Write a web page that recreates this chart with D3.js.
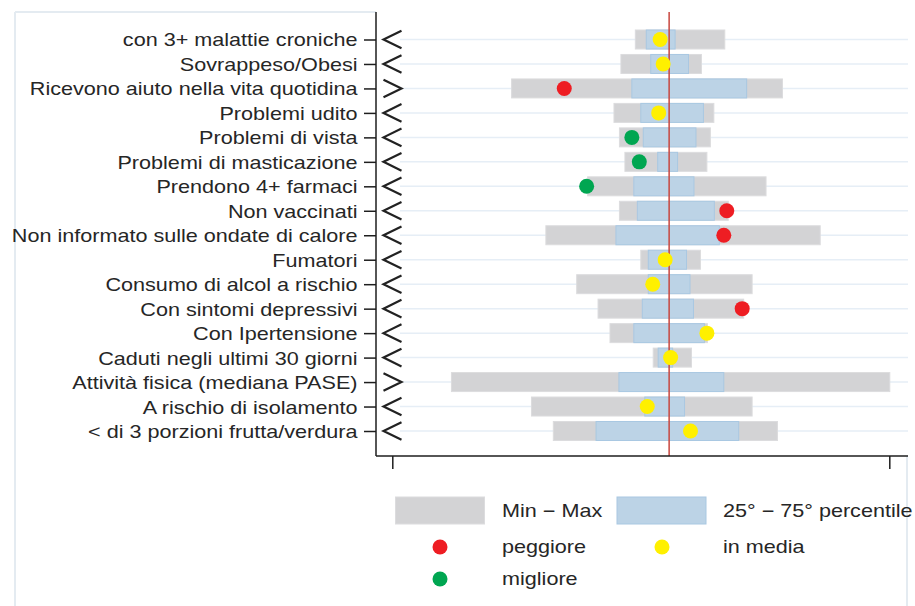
<!DOCTYPE html>
<html>
<head>
<meta charset="utf-8">
<script src="https://cdn.jsdelivr.net/npm/d3@7"></script>
<style>
  html, body { margin: 0; padding: 0; background: #fff; }
  svg { display: block; }
  text { font-family: "Liberation Sans", Arial, sans-serif; }
</style>
</head>
<body>
<svg id="chart" width="915" height="606"></svg>
<script>
// ---------------- data ----------------
const categories = [
  "con 3+ malattie croniche",
  "Sovrappeso/Obesi",
  "Ricevono aiuto nella vita quotidina",
  "Problemi udito",
  "Problemi di vista",
  "Problemi di masticazione",
  "Prendono 4+ farmaci",
  "Non vaccinati",
  "Non informato sulle ondate di calore",
  "Fumatori",
  "Consumo di alcol a rischio",
  "Con sintomi depressivi",
  "Con Ipertensione",
  "Caduti negli ultimi 30 giorni",
  "Attività fisica (mediana PASE)",
  "A rischio di isolamento",
  "< di 3 porzioni frutta/verdura"
];
const minValues = [48.9, 46.0, 24.0, 44.6, 45.7, 46.8, 39.3, 45.7, 30.9, 50.0, 37.1, 41.4, 43.8, 52.5, 11.9, 28.0, 32.4];
const maxValues = [66.9, 62.2, 78.5, 64.7, 64.0, 63.3, 75.2, 67.6, 86.1, 62.0, 72.4, 70.7, 63.4, 60.2, 100.1, 72.4, 77.5];
const p25Values = [51.1, 52.0, 48.2, 50.0, 50.5, 53.4, 48.6, 49.3, 45.0, 51.5, 51.5, 50.3, 48.6, 53.5, 45.6, 50.8, 41.0];
const p75Values = [56.9, 59.6, 71.3, 62.6, 61.1, 57.4, 60.7, 64.8, 65.8, 59.2, 59.9, 60.6, 62.8, 56.4, 66.7, 58.8, 69.7];
const regionValues = [53.9, 54.5, 34.6, 53.6, 48.2, 49.7, 39.1, 67.3, 66.7, 54.9, 52.4, 70.4, 63.3, 56.0, null, 51.3, 60.0];
const regionClass = ["media", "media", "peggiore", "media", "migliore", "migliore", "migliore", "peggiore", "peggiore",
                     "media", "media", "peggiore", "media", "media", null, "media", "media"];
const direction = ["<", "<", ">", "<", "<", "<", "<", "<", "<", "<", "<", "<", "<", "<", ">", "<", "<"];
const referenceValue = 55.7;
const xTickValues = [0, 100];
const legendLabels = {
  range: "Min \u2212 Max",
  iqr: "25\u00B0 \u2212 75\u00B0 percentile",
  peggiore: "peggiore",
  media: "in media",
  migliore: "migliore"
};

// ---------------- styles ----------------
const colors = {
  gray: "#d3d3d5", grayStroke: "#dcdcde",
  blue: "#bcd3e6", blueStroke: "#a9c8e2",
  peggiore: "#ee1d23", media: "#fff000", migliore: "#00a651",
  ref: "#c8463e", axis: "#1e1e1e", grid: "#e6eef6", text: "#262626", frame: "#e4ebf1"
};
const FS = 18, SX = 1.2;

const svg = d3.select("#chart");
const axisX0 = 376, axisTop = 12, axisBottom = 456, axisRight = 908;

const x = d3.scaleLinear().domain([0, 100]).range([392.3, 889.3]);
const y = d3.scalePoint().domain(categories).range([39.5, 431]);
const barH = 19;

// frame
svg.append("line").attr("x1", 15).attr("x2", 15).attr("y1", 12).attr("y2", 606)
  .attr("stroke", colors.frame).attr("stroke-width", 2);
svg.append("line").attr("x1", 15).attr("x2", axisX0).attr("y1", 12).attr("y2", 12)
  .attr("stroke", colors.frame).attr("stroke-width", 2);
svg.append("line").attr("x1", 907).attr("x2", 907).attr("y1", axisBottom).attr("y2", 606)
  .attr("stroke", colors.frame).attr("stroke-width", 2);

// grid lines
svg.append("g").selectAll("line").data(categories).join("line")
  .attr("x1", 400).attr("x2", axisRight)
  .attr("y1", d => y(d)).attr("y2", d => y(d))
  .attr("stroke", colors.grid).attr("stroke-width", 1.5);

// min-max bars
svg.append("g").selectAll("rect").data(categories).join("rect")
  .attr("x", (d, i) => x(minValues[i]))
  .attr("width", (d, i) => x(maxValues[i]) - x(minValues[i]))
  .attr("y", d => y(d) - barH / 2).attr("height", barH)
  .attr("fill", colors.gray).attr("stroke", colors.grayStroke).attr("stroke-width", 1);

// percentile bars
svg.append("g").selectAll("rect").data(categories).join("rect")
  .attr("x", (d, i) => x(p25Values[i]))
  .attr("width", (d, i) => x(p75Values[i]) - x(p25Values[i]))
  .attr("y", d => y(d) - barH / 2).attr("height", barH)
  .attr("fill", colors.blue).attr("stroke", colors.blueStroke).attr("stroke-width", 1);

// reference line
svg.append("line")
  .attr("x1", x(referenceValue)).attr("x2", x(referenceValue))
  .attr("y1", axisTop).attr("y2", axisBottom)
  .attr("stroke", colors.ref).attr("stroke-width", 1.5);

// dots
svg.append("g").selectAll("circle")
  .data(categories.map((c, i) => ({ c, v: regionValues[i], k: regionClass[i] })).filter(d => d.v != null))
  .join("circle")
  .attr("cx", d => x(d.v)).attr("cy", d => y(d.c)).attr("r", 7.5)
  .attr("fill", d => colors[d.k]);

// direction markers
svg.append("g").selectAll("path").data(categories).join("path")
  .attr("d", (d, i) => {
    const cx = 392.5, cy = y(d), hw = 9, hh = 8.8;
    return direction[i] === "<"
      ? `M${cx + hw},${cy - hh}L${cx - hw},${cy}L${cx + hw},${cy + hh}`
      : `M${cx - hw},${cy - hh}L${cx + hw},${cy}L${cx - hw},${cy + hh}`;
  })
  .attr("fill", "none").attr("stroke", "#222").attr("stroke-width", 2.2);

// left axis
const gy = svg.append("g").attr("transform", `translate(${axisX0},0)`)
  .call(d3.axisLeft(y).tickSize(12).tickSizeOuter(0));
gy.select(".domain").remove();
gy.selectAll(".tick line").attr("stroke", colors.axis).attr("stroke-width", 1.5);
gy.selectAll(".tick text")
  .attr("x", 0).attr("dy", "0.36em")
  .attr("transform", `translate(-18.5,0) scale(${SX},1)`)
  .attr("text-anchor", "end")
  .style("font-size", FS + "px").style("font-family", "'Liberation Sans', Arial, sans-serif")
  .attr("fill", colors.text);

// bottom axis
const gx = svg.append("g").attr("transform", `translate(0,${axisBottom})`)
  .call(d3.axisBottom(x).tickValues(xTickValues).tickFormat("").tickSize(13).tickSizeOuter(0));
gx.select(".domain").remove();
gx.selectAll(".tick line").attr("stroke", colors.axis).attr("stroke-width", 1.5);

// axis lines
svg.append("line").attr("x1", axisX0).attr("x2", axisX0).attr("y1", axisTop).attr("y2", axisBottom)
  .attr("stroke", colors.axis).attr("stroke-width", 1.5);
svg.append("line").attr("x1", axisX0).attr("x2", axisRight).attr("y1", axisBottom).attr("y2", axisBottom)
  .attr("stroke", colors.axis).attr("stroke-width", 1.5);

// legend
const leg = svg.append("g");
function legText(tx, ty, s) {
  leg.append("text").attr("transform", `translate(${tx},${ty}) scale(${SX},1)`)
    .attr("dy", "0.36em").style("font-size", FS + "px").attr("fill", colors.text).text(s);
}
leg.append("rect").attr("x", 395.5).attr("y", 497).attr("width", 89).attr("height", 27)
  .attr("fill", colors.gray).attr("stroke", colors.grayStroke);
legText(502, 511, legendLabels.range);
leg.append("rect").attr("x", 617).attr("y", 497).attr("width", 89).attr("height", 27)
  .attr("fill", colors.blue).attr("stroke", colors.blueStroke);
legText(723, 511, legendLabels.iqr);
leg.append("circle").attr("cx", 440).attr("cy", 547).attr("r", 7.5).attr("fill", colors.peggiore);
legText(502, 547, legendLabels.peggiore);
leg.append("circle").attr("cx", 662).attr("cy", 547).attr("r", 7.5).attr("fill", colors.media);
legText(723, 547, legendLabels.media);
leg.append("circle").attr("cx", 440).attr("cy", 579).attr("r", 7.5).attr("fill", colors.migliore);
legText(502, 579, legendLabels.migliore);
</script>
</body>
</html>
